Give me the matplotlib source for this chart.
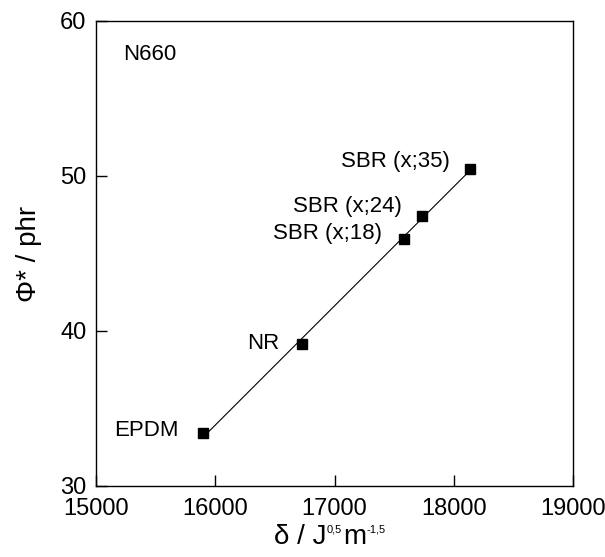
import numpy as np
import matplotlib
matplotlib.use('Agg')
import matplotlib.pyplot as plt

plt.rcParams['font.family'] = ['Liberation Sans', 'DejaVu Sans']

# data
names = ['EPDM', 'NR', 'SBR (x;18)', 'SBR (x;24)', 'SBR (x;35)']
delta = [15900, 16730, 17580, 17730, 18140]
phi = [33.4, 39.15, 45.95, 47.45, 50.45]

# label anchors (right edge of each label)
label_x = [15690, 16535, 17400, 17566, 17970]
label_y = [33.6, 39.2, 46.3, 48.0, 50.95]

fig = plt.figure(figsize=(6.05, 5.57), dpi=100)
ax = fig.add_axes([0.1587, 0.1275, 0.7884, 0.8348])

# linear fit through the points
m, b = np.polyfit(delta, phi, 1)
xs = np.array([min(delta), max(delta)])
ax.plot(xs, m * xs + b, color='black', lw=0.8)
ax.plot(delta, phi, 's', color='black', ms=7)

for n, lx, ly in zip(names, label_x, label_y):
    ax.text(lx, ly, n, ha='right', va='center', fontsize=16)

ax.text(15226, 57.87, 'N660', ha='left', va='center', fontsize=16)

ax.set_xlim(15000, 19000)
ax.set_ylim(30, 60)
ax.set_xticks([15000, 16000, 17000, 18000, 19000])
ax.set_yticks([30, 40, 50, 60])
ax.tick_params(direction='in', length=8, width=1, labelsize=17)
ax.tick_params(axis='x', pad=9)
ax.tick_params(axis='y', pad=7)
for s in ax.spines.values():
    s.set_linewidth(1)

ax.set_ylabel('Φ* / phr', fontsize=20, labelpad=13)

# x label built from pieces so the exponents stay small
pieces = [('δ / J', 20, 0), ('0,5', 8, 12), ('m', 20, 0), ('-1,5', 8, 12)]
fig.canvas.draw()
r = fig.canvas.get_renderer()
x0, base = 274, 557 - 544
x = x0
for txt, fs, rise in pieces:
    t = fig.text(x / 605, (base + rise) / 557, txt, fontsize=fs,
                 ha='left', va='baseline')
    x = t.get_window_extent(r).x1 + 0.5

fig.savefig('out.png', dpi=100)
